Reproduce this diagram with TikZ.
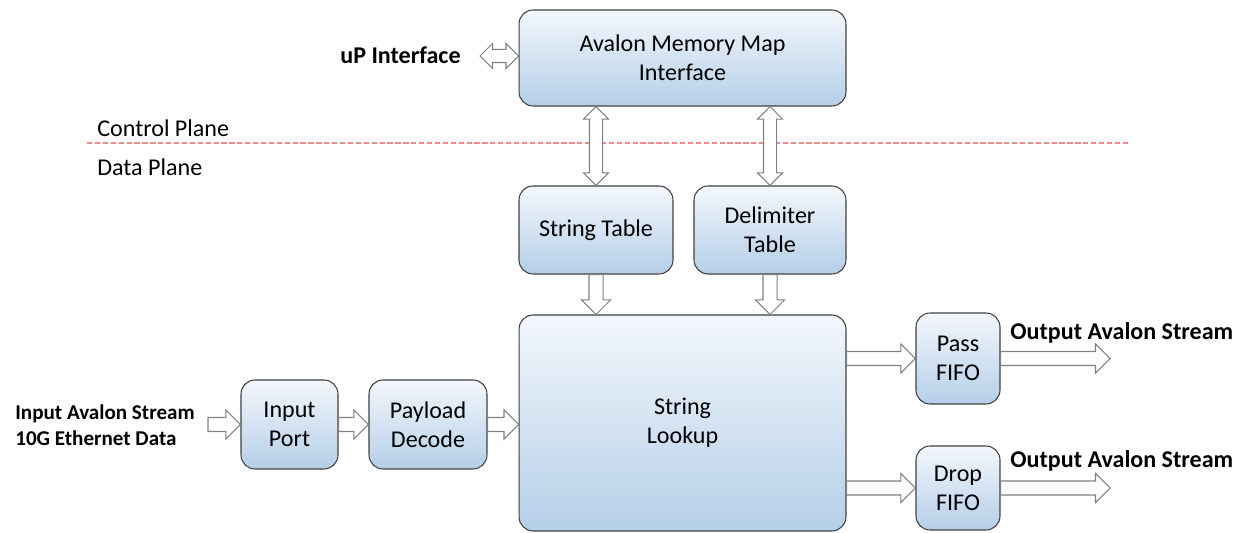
\documentclass[tikz,border=0pt]{standalone}
\usepackage{fontspec}
\setmainfont{Carlito}
\usetikzlibrary{shapes.arrows,calc}
\definecolor{boxtop}{HTML}{F3F7FC}
\definecolor{boxbot}{HTML}{B5CFE8}
\definecolor{planeline}{HTML}{F28A8A}
% hollow block arrow, stretched between two points
\newcommand{\blkarrow}[3][flow]{%
  \path let \p1=($(#3)-(#2)$), \n1={veclen(\x1,\y1)} in
    (#2) -- node[#1, minimum height=\n1] {} (#3);}
\begin{document}
\begin{tikzpicture}[
    x=0.02cm, y=-0.02cm,
    block/.style={rectangle, rounded corners=8pt, draw=black!75, line width=0.6pt, top color=boxtop, bottom color=boxbot, align=center, font=\fontsize{13.7}{16.5}\selectfont, inner sep=2pt},
    flow/.style={single arrow, draw=black!50, line width=0.6pt, fill=white, inner xsep=0pt, inner ysep=0.13cm, outer sep=0pt, single arrow head extend=0.15cm, sloped, allow upside down, pos=0, anchor=tail},
    bothway/.style={double arrow, draw=black!50, line width=0.6pt, fill=white, inner xsep=0pt, inner ysep=0.12cm, outer sep=0pt, double arrow head extend=0.12cm, sloped, allow upside down},
    plane/.style={anchor=west, inner sep=0pt, font=\fontsize{13.7}{16.5}\selectfont},
    port/.style={inner sep=0pt, font=\fontsize{13.7}{16.5}\selectfont\bfseries}
]
\useasboundingbox (0,0) rectangle (1244,533);

% Blocks
\node[block, minimum width=6.54cm, minimum height=1.92cm] (avalon) at (682.5,58) {Avalon Memory Map\\Interface};
\node[block, minimum width=3.08cm, minimum height=1.76cm] (strtab) at (596,230) {String Table};
\node[block, minimum width=3.04cm, minimum height=1.76cm] (delim) at (770,230) {Delimiter\\Table};
\node[block, minimum width=6.54cm, minimum height=4.32cm] (lookup) at (682.5,423) {String\\Lookup};
\node[block, minimum width=1.94cm, minimum height=1.78cm] (inport) at (289.5,424.5) {Input\\Port};
\node[block, minimum width=2.36cm, minimum height=1.78cm] (payload) at (428,424.5) {Payload\\Decode};
\node[block, minimum width=1.68cm, minimum height=1.82cm] (pass) at (958,358.5) {Pass\\FIFO};
\node[block, minimum width=1.68cm, minimum height=1.68cm] (drop) at (958,488) {Drop\\FIFO};

% Plane separation
\draw[planeline, line width=0.7pt, dash pattern=on 3pt off 1.5pt] (87,143) -- (1130,143);
\node[plane] (ctrl) at (97,128) {Control Plane};
\node[plane] (data) at (97,167) {Data Plane};

% Ports
\node[port, anchor=east] (up) at (461,55) {uP Interface};
\node[port, anchor=west, align=left, font=\fontsize{12}{14.7}\selectfont\bfseries] (instream) at (15,425) {Input Avalon Stream\\10G Ethernet Data};
\node[port, anchor=west] (outpass) at (1010,333) {Output Avalon Stream};
\node[port, anchor=west] (outdrop) at (1010,461) {Output Avalon Stream};
\coordinate (upend) at (480,56);
\coordinate (inend) at (208,424.5);
\coordinate (passend) at (1110,358.5);
\coordinate (dropend) at (1110,488);

% Connectors
\blkarrow[bothway]{upend}{avalon.west |- upend}
\blkarrow[bothway]{strtab.north |- avalon.south}{strtab.north}
\blkarrow[bothway]{delim.north |- avalon.south}{delim.north}
\blkarrow{strtab.south}{strtab.south |- lookup.north}
\blkarrow{delim.south}{delim.south |- lookup.north}
\blkarrow{inend}{inport.west}
\blkarrow{inport.east}{payload.west}
\blkarrow{payload.east}{payload.east -| lookup.west}
\blkarrow{lookup.east |- pass.west}{pass.west}
\blkarrow{lookup.east |- drop.west}{drop.west}
\blkarrow{pass.east}{passend}
\blkarrow{drop.east}{dropend}

\end{tikzpicture}
\end{document}
